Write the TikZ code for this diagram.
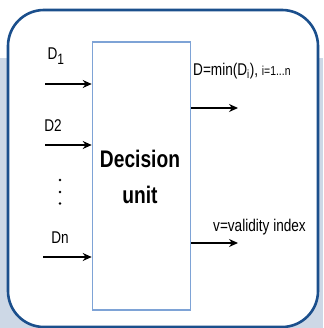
\documentclass[tikz,border=0pt]{standalone}
\usepackage{fontspec}
\setmainfont{Liberation Sans}
\newfontfamily\cond[FakeStretch=0.8]{Liberation Sans}
\usetikzlibrary{arrows.meta}
\definecolor{bgblue}{HTML}{CDD8E6}
\definecolor{frameblue}{HTML}{1B4F8C}
\definecolor{boxblue}{HTML}{7EA3D6}
\begin{document}
\begin{tikzpicture}[x=1pt,y=-1pt,
  lbl/.style={inner sep=0pt,font=\cond\fontsize{17}{20}\selectfont},
  arr/.style={line width=1.4pt,-{Stealth[length=9pt,width=8pt]}},
  dotmark/.style={circle,fill=black,inner sep=0pt,minimum size=2.6pt}]
\useasboundingbox (0,0) rectangle (323,328);
\fill[white] (0,0) rectangle (323,328);
\fill[bgblue] (0,58) rectangle (323,328);
\draw[frameblue,line width=2.6pt,fill=white,rounded corners=36pt] (8,10) rectangle (318,327);
\node[draw=boxblue,line width=1.6pt,minimum width=98pt,minimum height=268pt,inner sep=0pt] (du) at (141.5,176) {};
\node[align=center,font=\cond\bfseries\fontsize{24}{36}\selectfont] (dt) at (140,177) {Decision\\unit};
% inputs
\coordinate (i1) at (45,84);
\coordinate (i2) at (45,145);
\coordinate (in) at (43,257);
\draw[arr] (i1) -- (i1 -| du.west);
\draw[arr] (i2) -- (i2 -| du.west);
\draw[arr] (in) -- (in -| du.west);
\node[lbl] (l1) at (56,56) {D\textsubscript{\fontsize{15}{15}\selectfont 1}};
\node[lbl] (l2) at (53,126) {D2};
\node[lbl] (ln) at (60,238) {Dn};
\node[dotmark] (d1) at (60,180) {};
\node[dotmark] (d2) at (60,192) {};
\node[dotmark] (d3) at (60,203.5) {};
% outputs
\coordinate (o1) at (238,108);
\coordinate (o2) at (238,243);
\draw[arr] (o1 -| du.east) -- (o1);
\draw[arr] (o2 -| du.east) -- (o2);
\node[lbl,anchor=west] (lo1) at (193,71) {D=min(D\textsubscript{i}), {\fontsize{13}{15}\selectfont i=1...n}};
\node[lbl,anchor=west] (lo2) at (213,227) {v=validity index};
\end{tikzpicture}
\end{document}
